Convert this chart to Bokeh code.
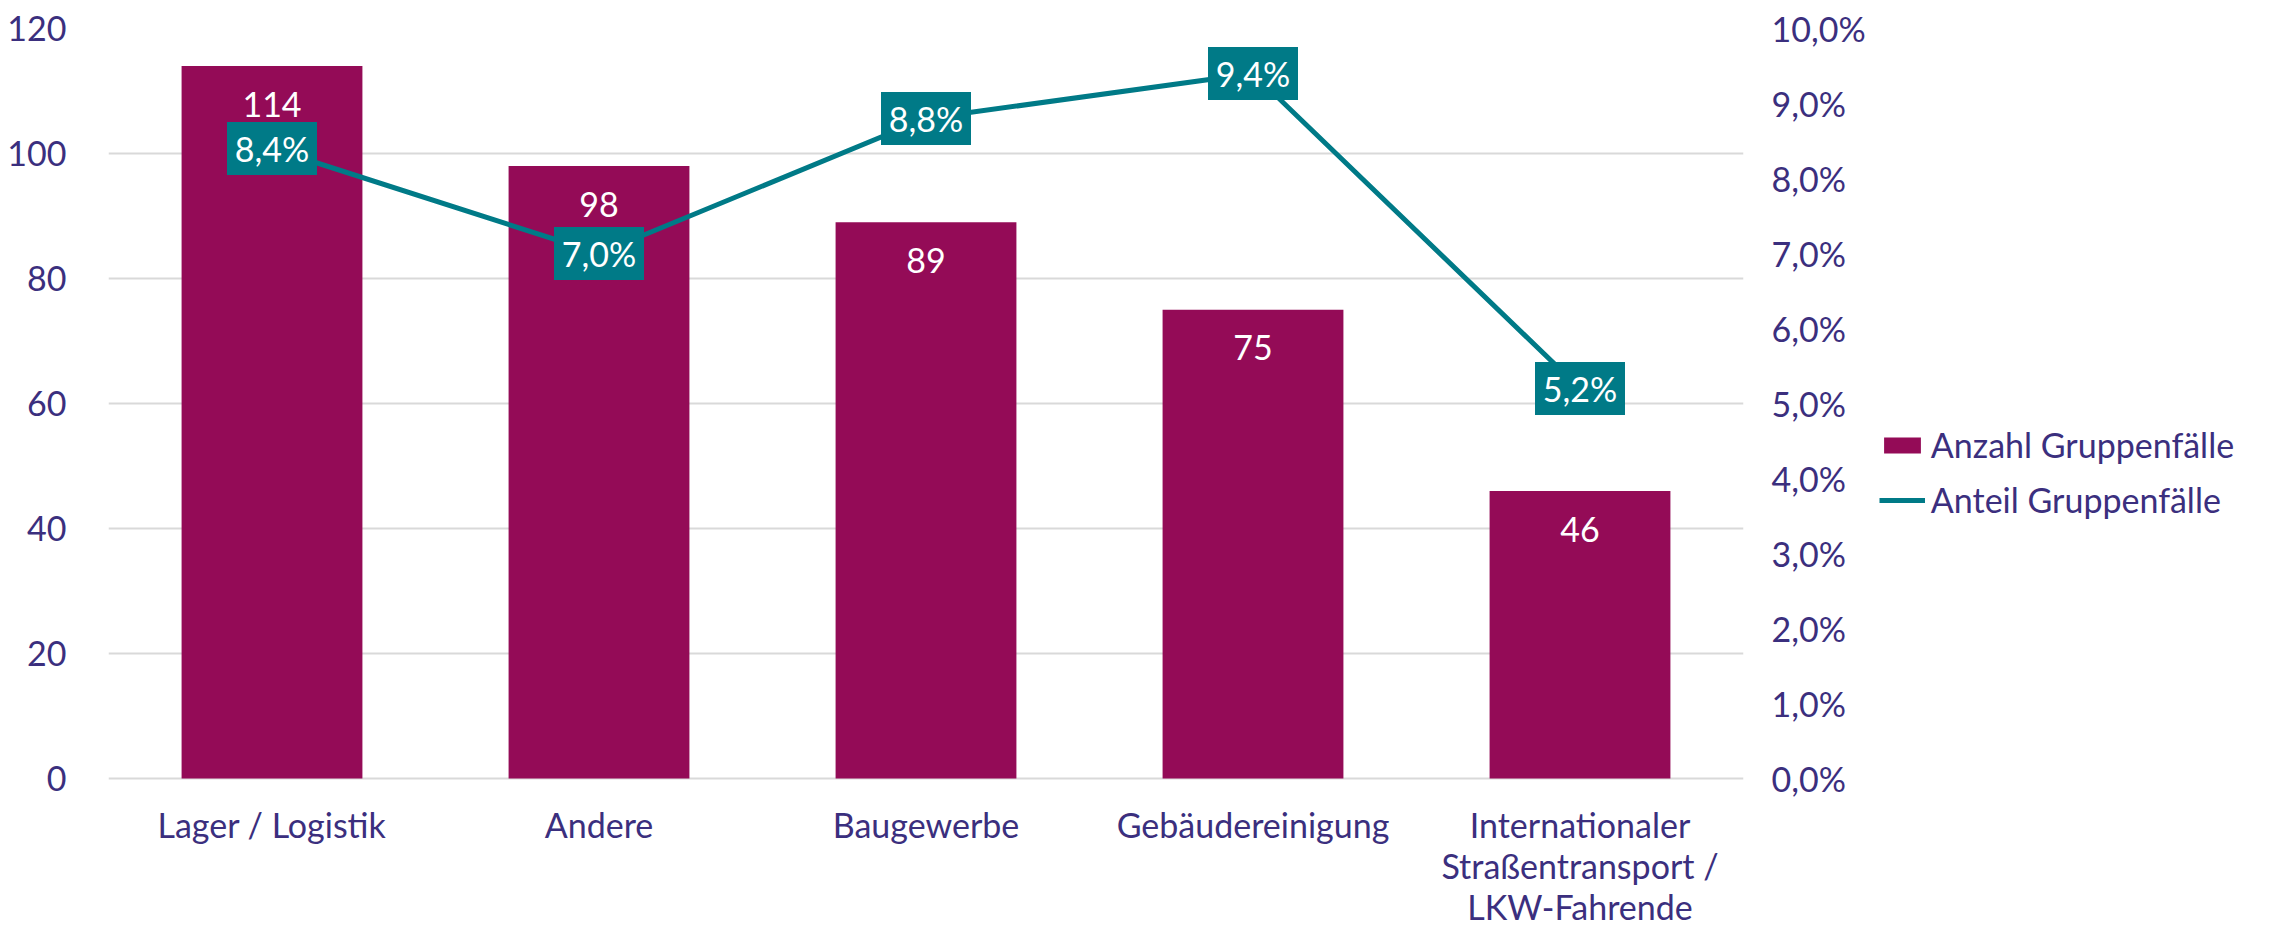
from bokeh.plotting import figure
from bokeh.models import (Range1d, LinearAxis, FixedTicker, Legend, LegendItem,
                          ColumnDataSource)
from bokeh.core.properties import value
from bokeh.embed import file_html
from bokeh.resources import INLINE

# ---- data ----
categories = ["Lager / Logistik", "Andere", "Baugewerbe", "Gebäudereinigung",
              "Internationaler Straßentransport / LKW-Fahrende"]
category_labels = ["Lager / Logistik", "Andere", "Baugewerbe", "Gebäudereinigung",
                   "Internationaler\nStraßentransport /\nLKW-Fahrende"]
anzahl = [114, 98, 89, 75, 46]
anteil = [8.4, 7.0, 8.8, 9.4, 5.2]
anzahl_labels = ["114", "98", "89", "75", "46"]
anteil_labels = ["8,4%", "7,0%", "8,8%", "9,4%", "5,2%"]
left_ticks = [0, 20, 40, 60, 80, 100, 120]
right_ticks = [0, 1, 2, 3, 4, 5, 6, 7, 8, 9, 10]
right_tick_labels = ["0,0%", "1,0%", "2,0%", "3,0%", "4,0%", "5,0%", "6,0%",
                     "7,0%", "8,0%", "9,0%", "10,0%"]

BAR = "#940B57"
TEAL = "#007A87"
TXT = "#3B2F7E"
FONT = "Lato"
FS = "34px"

src = ColumnDataSource(dict(cat=categories, n=anzahl, p=anteil,
                            nl=anzahl_labels, pl=anteil_labels))

# x-axis label lines (multi-line category labels drawn as text)
lab_x, lab_t, lab_off = [], [], []
for c, lab in zip(categories, category_labels):
    for i, ln in enumerate(lab.split("\n")):
        lab_x.append(c)
        lab_t.append(ln)
        lab_off.append(46 + 41 * i)
lab_src = ColumnDataSource(dict(x=lab_x, t=lab_t, off=lab_off, y=[0] * len(lab_x)))

# frame: 0..120 spans 750px; extra 153px below 0 for category labels
EXTRA = 153
p = figure(x_range=categories, y_range=Range1d(-EXTRA / 6.25, 120),
           frame_width=1635, frame_height=750 + EXTRA,
           min_border_left=108, min_border_right=526,
           min_border_top=28, min_border_bottom=0,
           output_backend="svg", toolbar_location=None)
p.extra_y_ranges = {"pct": Range1d(-EXTRA / 75, 10)}
p.outline_line_color = None
p.background_fill_color = "white"
p.border_fill_color = "white"

# grid
p.xgrid.grid_line_color = None
p.ygrid.grid_line_color = "#D9D9D9"
p.ygrid.grid_line_width = 2
p.ygrid.ticker = FixedTicker(ticks=left_ticks)

# left axis
ax = p.yaxis[0]
ax.ticker = FixedTicker(ticks=left_ticks)
ax.axis_line_color = None
ax.major_tick_line_color = None
ax.minor_tick_line_color = None
ax.major_label_standoff = 36
ax.major_label_text_font = FONT
ax.major_label_text_font_size = FS
ax.major_label_text_color = TXT

# right axis
rax = LinearAxis(y_range_name="pct", ticker=FixedTicker(ticks=right_ticks))
rax.major_label_overrides = {t: l for t, l in zip(right_ticks, right_tick_labels)}
rax.axis_line_color = None
rax.major_tick_line_color = None
rax.minor_tick_line_color = None
rax.major_label_standoff = 22
rax.major_label_text_font = FONT
rax.major_label_text_font_size = FS
rax.major_label_text_color = TXT
p.add_layout(rax, "right")

p.xaxis.visible = False

# bars
bars = p.vbar(x="cat", top="n", width=0.553, source=src, fill_color=BAR,
              line_color=None)
p.text(x="cat", y="n", text="nl", source=src, y_offset=38,
       text_align="center", text_baseline="middle", text_color="white",
       text_font=value(FONT), text_font_size=FS)

# category labels
p.text(x="x", y="y", text="t", source=lab_src, y_offset="off",
       text_align="center", text_baseline="middle", text_color=TXT,
       text_font=value(FONT), text_font_size=FS)

# line
line = p.line(x="cat", y="p", source=src, y_range_name="pct",
              line_color=TEAL, line_width=5)
p.rect(x="cat", y="p", width=90, height=53, width_units="screen",
       height_units="screen", source=src, y_range_name="pct",
       fill_color=TEAL, line_color=None)
p.text(x="cat", y="p", text="pl", source=src, y_range_name="pct",
       text_align="center", text_baseline="middle", text_color="white",
       text_font=value(FONT), text_font_size=FS)

legend = Legend(items=[LegendItem(label="Anzahl Gruppenfälle", renderers=[bars]),
                       LegendItem(label="Anteil Gruppenfälle", renderers=[line])],
                location=(-216, 411), orientation="vertical",
                glyph_width=46, glyph_height=20, label_standoff=6,
                spacing=14, padding=0, margin=0,
                border_line_color=None, background_fill_alpha=0,
                label_text_font=FONT, label_text_font_size=FS,
                label_text_color=TXT)
p.add_layout(legend, "right")

open("out.html", "w").write(file_html(p, INLINE))
